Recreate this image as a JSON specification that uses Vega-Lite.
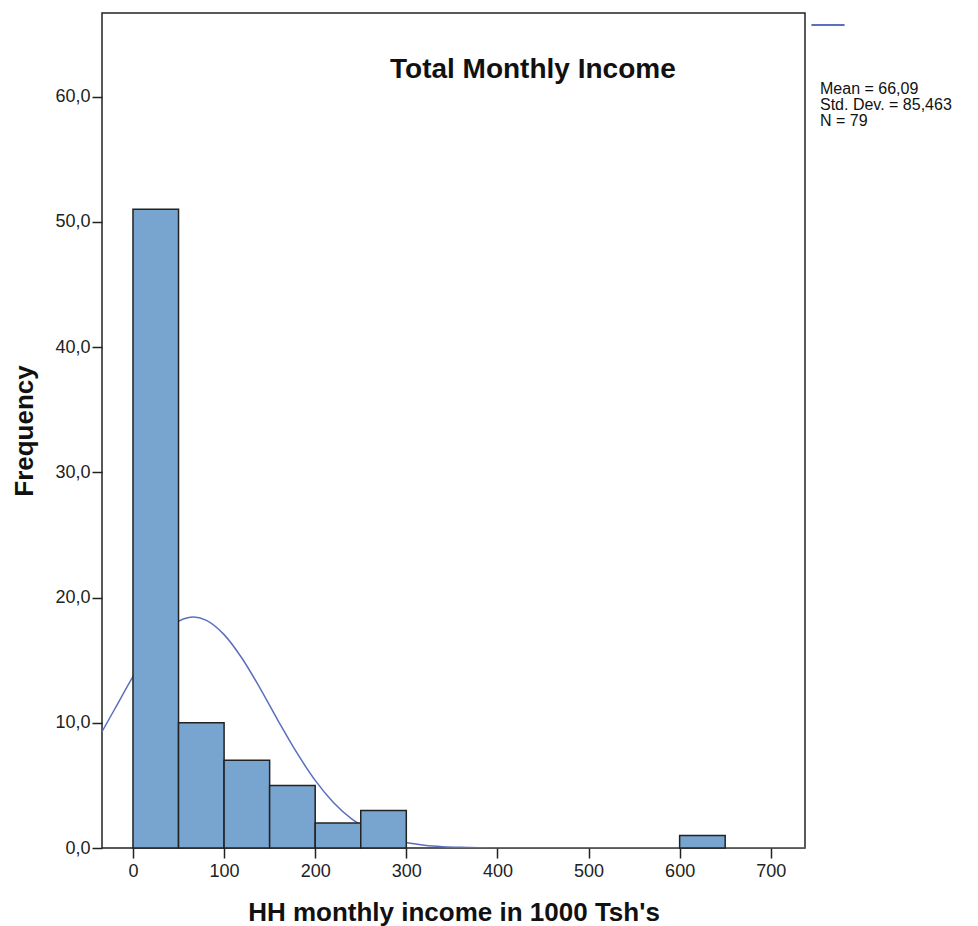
{
  "$schema": "https://vega.github.io/schema/vega-lite/v6.json",
  "autosize": "none",
  "padding": {"left": 102, "top": 13, "right": 173, "bottom": 78},
  "width": 703,
  "height": 835,
  "background": "white",
  "title": {
    "text": "Total Monthly Income",
    "anchor": "start",
    "frame": "group",
    "dx": 288,
    "dy": 17,
    "offset": -60,
    "font": "Liberation Sans",
    "fontSize": 28,
    "fontWeight": "bold",
    "color": "#111"
  },
  "datasets": {
    "bins": [
      {"bin_start": 0, "bin_end": 50, "count": 51},
      {"bin_start": 50, "bin_end": 100, "count": 10},
      {"bin_start": 100, "bin_end": 150, "count": 7},
      {"bin_start": 150, "bin_end": 200, "count": 5},
      {"bin_start": 200, "bin_end": 250, "count": 2},
      {"bin_start": 250, "bin_end": 300, "count": 3},
      {"bin_start": 600, "bin_end": 650, "count": 1}
    ],
    "curve": [
      {"income": -34, "freq": 9.29},
      {"income": -20, "freq": 11.10},
      {"income": 0, "freq": 13.68},
      {"income": 20, "freq": 15.95},
      {"income": 40, "freq": 17.60},
      {"income": 60, "freq": 18.39},
      {"income": 66.09, "freq": 18.44},
      {"income": 80, "freq": 18.20},
      {"income": 100, "freq": 17.04},
      {"income": 120, "freq": 15.11},
      {"income": 140, "freq": 12.69},
      {"income": 160, "freq": 10.08},
      {"income": 180, "freq": 7.59},
      {"income": 200, "freq": 5.40},
      {"income": 220, "freq": 3.64},
      {"income": 240, "freq": 2.33},
      {"income": 260, "freq": 1.41},
      {"income": 280, "freq": 0.805},
      {"income": 300, "freq": 0.436},
      {"income": 320, "freq": 0.224},
      {"income": 340, "freq": 0.108},
      {"income": 360, "freq": 0.050},
      {"income": 380, "freq": 0.022},
      {"income": 400, "freq": 0.009},
      {"income": 450, "freq": 0.0005},
      {"income": 500, "freq": 0},
      {"income": 600, "freq": 0},
      {"income": 737.6, "freq": 0}
    ]
  },
  "config": {
    "view": {"stroke": "#222", "strokeWidth": 1.5},
    "axis": {
      "grid": false,
      "domain": false,
      "labelFont": "Liberation Sans",
      "labelFontSize": 18,
      "labelColor": "#222",
      "tickColor": "#222",
      "tickWidth": 1.5,
      "titleFont": "Liberation Sans",
      "titleFontSize": 26,
      "titleFontWeight": "bold",
      "titleColor": "#111"
    }
  },
  "layer": [
    {
      "data": {"name": "curve"},
      "mark": {"type": "line", "clip": true, "interpolate": "monotone", "strokeWidth": 1.5},
      "encoding": {
        "x": {"field": "income", "type": "quantitative"},
        "y": {"field": "freq", "type": "quantitative"},
        "color": {
          "datum": "Normal",
          "type": "nominal",
          "scale": {"range": ["#5a6fbf"]},
          "legend": {
            "orient": "none",
            "legendX": 718,
            "legendY": -6,
            "symbolType": "stroke",
            "symbolSize": 1100,
            "symbolOffset": -10,
            "symbolStrokeWidth": 2,
            "labelExpr": "''",
            "title": ["Mean = 66,09", "Std. Dev. = 85,463", "N = 79"],
            "titleOrient": "bottom",
            "titleAnchor": "start",
            "titleAlign": "left",
            "titleFont": "Liberation Sans",
            "titleFontSize": 16,
            "titleFontWeight": "normal",
            "titleLineHeight": 16,
            "titleColor": "#111",
            "titlePadding": 51,
            "titleLimit": 300
          }
        }
      }
    },
    {
      "data": {"name": "bins"},
      "mark": {"type": "bar", "fill": "#78a5d0", "stroke": "#222", "strokeWidth": 1.5},
      "encoding": {
        "x": {
          "field": "bin_start",
          "type": "quantitative",
          "scale": {"domain": [-34, 737.6], "nice": false, "zero": false},
          "axis": {
            "title": "HH monthly income in 1000 Tsh's",
            "values": [0, 100, 200, 300, 400, 500, 600, 700],
            "tickSize": 10,
            "labelPadding": 4,
            "titlePadding": 19
          }
        },
        "x2": {"field": "bin_end"},
        "y": {
          "field": "count",
          "type": "quantitative",
          "scale": {"domain": [0, 66.68], "nice": false},
          "axis": {
            "title": "Frequency",
            "values": [0, 10, 20, 30, 40, 50, 60],
            "labelExpr": "replace(format(datum.value, '.1f'), '.', ',')",
            "tickSize": 10,
            "labelPadding": 2,
            "titlePadding": 17
          }
        },
        "y2": {"datum": 0}
      }
    }
  ]
}
